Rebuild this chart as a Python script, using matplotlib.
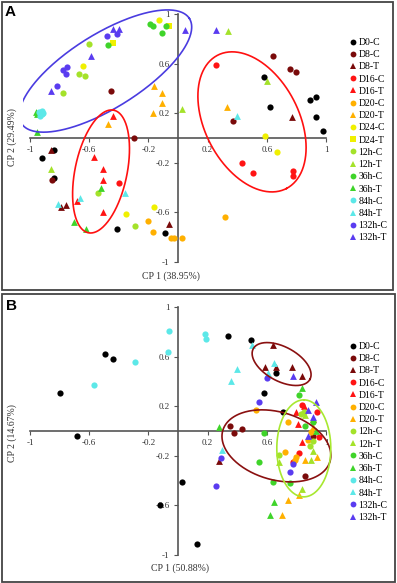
import numpy as np
import matplotlib
matplotlib.use('Agg')
import matplotlib.pyplot as plt
from matplotlib.lines import Line2D
from matplotlib.patches import Rectangle

plt.rcParams['font.family'] = ['Liberation Serif', 'DejaVu Serif']

W, H, DPI = 397, 583, 100

# ---------------- Panel A data (CP1, CP2) ----------------
A_D0C = ([0.58, 0.89, 0.93, 0.62, 0.93, 0.98, -0.84, -0.92, -0.84, -0.41, -0.09],
         [0.49, 0.31, 0.33, 0.25, 0.17, 0.06, -0.10, -0.16, -0.32, -0.73, -0.77])
A_D8C = ([-0.45, -0.30, 0.64, 0.76, 0.80, 0.37, -0.85],
         [0.38, 0.00, 0.66, 0.56, 0.53, 0.14, -0.34])
A_D8T = ([0.77, -0.86, -0.79, -0.76, -0.06],
         [0.17, -0.10, -0.56, -0.54, -0.69])
A_D16C = ([0.26, -0.40, 0.43, 0.51, 0.78, 0.78],
          [0.59, -0.36, -0.20, -0.28, -0.27, -0.31])
A_D16T = ([-0.44, -0.57, -0.51, -0.51, -0.68, -0.51],
          [0.18, -0.15, -0.25, -0.34, -0.51, -0.60])
A_D20C = ([-0.20, -0.17, -0.05, -0.03, 0.03, 0.32],
          [-0.67, -0.76, -0.81, -0.81, -0.81, -0.64])
A_D20T = ([-0.47, -0.16, -0.11, -0.11, -0.17, 0.33],
          [0.11, 0.42, 0.36, 0.28, 0.20, 0.25])
A_D24C = ([-0.13, -0.64, 0.59, 0.67, -0.35, -0.16],
          [0.95, 0.58, 0.02, -0.11, -0.61, -0.56])
A_D24T = ([-0.06, -0.44],
          [0.90, 0.77])
A_12hC = ([-0.60, -0.67, -0.63, -0.78, -0.54, -0.29],
          [0.76, 0.52, 0.50, 0.36, -0.44, -0.71])
A_12hT = ([0.03, 0.60, -0.86, 0.34],
          [0.23, 0.46, -0.25, 0.86])
A_36hC = ([-0.19, -0.17, -0.11, -0.08, -0.47],
          [0.92, 0.90, 0.85, 0.90, 0.75])
A_36hT = ([-0.96, -0.95, -0.95, -0.52, -0.70, -0.62],
          [0.21, 0.19, 0.05, -0.40, -0.68, -0.73])
A_84hC = ([-0.94, -0.92, -0.91, -0.93, -0.92],
          [0.21, 0.22, 0.20, 0.18, 0.19])
A_84hT = ([0.40, -0.36, -0.66, -0.81],
          [0.18, -0.44, -0.48, -0.53])
A_132hC = ([-0.48, -0.41, -0.78, -0.75, -0.76, -0.82],
           [0.82, 0.84, 0.55, 0.57, 0.52, 0.42])
A_132hT = ([-0.44, -0.40, -0.59, -0.86, 0.05, 0.26],
           [0.88, 0.88, 0.66, 0.38, 0.87, 0.87])

# ---------------- Panel B data (CP1, CP2) ----------------
B_D0C = ([-0.49, -0.44, -0.80, -0.68, 0.03, -0.12, 0.13, 0.34, 0.49, 0.66, 0.58, 0.71],
         [0.62, 0.58, 0.31, -0.04, -0.41, -0.60, -0.91, 0.77, 0.73, 0.47, 0.31, 0.15])
B_D8C = ([0.35, 0.43, 0.38, 0.86, 0.91],
         [0.04, 0.02, -0.02, -0.36, -0.04])
B_D8T = ([0.64, 0.59, 0.66, 0.77, 0.84, 0.28],
         [0.69, 0.52, 0.52, 0.52, 0.44, -0.24])
B_D16C = ([0.94, 0.84, 0.82, 0.78, 0.95],
          [0.15, 0.21, -0.18, -0.25, -0.05])
B_D16T = ([0.85, 0.80, 0.81, 0.84, 0.91],
          [0.20, 0.15, 0.06, -0.09, 0.10])
B_D20C = ([0.53, 0.74, 0.72, 0.80, 0.79, 0.90, 0.88],
          [0.17, 0.07, -0.17, -0.21, -0.23, -0.01, -0.07])
B_D20T = ([0.86, 0.94, 0.82, 0.74, 0.70, 0.91],
          [-0.23, -0.21, -0.52, -0.56, -0.68, 0.03])
B_12hC = ([0.83, 0.85, 0.89, 0.91, 0.68],
          [0.14, 0.15, -0.12, -0.08, -0.19])
B_12hT = ([0.90, 0.91, 0.68, 0.84, 0.86],
          [-0.23, -0.16, -0.25, -0.47, 0.13])
B_36hC = ([0.82, 0.58, 0.55, 0.64, 0.76, 0.86, 0.91],
          [0.29, -0.02, -0.25, -0.41, -0.42, 0.04, 0.07])
B_36hT = ([0.84, 0.28, 0.65, 0.62, 0.93],
          [0.35, 0.03, -0.57, -0.68, 0.00])
B_84hC = ([-0.06, -0.07, -0.29, -0.57, 0.18, 0.19],
          [0.81, 0.64, 0.56, 0.37, 0.78, 0.74])
B_84hT = ([0.50, 0.65, 0.61, 0.40, 0.36, 0.30],
          [0.69, 0.55, 0.47, 0.50, 0.40, -0.15])
B_132hC = ([0.60, 0.55, 0.29, 0.26, 0.78, 0.76],
           [0.43, 0.23, -0.22, -0.44, -0.27, -0.33])
B_132hT = ([0.78, 0.93, 0.88, 0.91, 0.88],
           [0.44, 0.23, 0.17, 0.11, -0.04])

LABELS_A = ['D0-C', 'D8-C', 'D8-T', 'D16-C', 'D16-T', 'D20-C', 'D20-T', 'D24-C', 'D24-T',
            '12h-C', '12h-T', '36h-C', '36h-T', '84h-C', '84h-T', '132h-C', '132h-T']
SERIES_A = [A_D0C, A_D8C, A_D8T, A_D16C, A_D16T, A_D20C, A_D20T, A_D24C, A_D24T,
            A_12hC, A_12hT, A_36hC, A_36hT, A_84hC, A_84hT, A_132hC, A_132hT]
LABELS_B = ['D0-C', 'D8-C', 'D8-T', 'D16-C', 'D16-T', 'D20-C', 'D20-T',
            '12h-C', '12h-T', '36h-C', '36h-T', '84h-C', '84h-T', '132h-C', '132h-T']
SERIES_B = [B_D0C, B_D8C, B_D8T, B_D16C, B_D16T, B_D20C, B_D20T,
            B_12hC, B_12hT, B_36hC, B_36hT, B_84hC, B_84hT, B_132hC, B_132hT]

TICKS = [-1, -0.6, -0.2, 0.2, 0.6, 1]
TICK_LABELS = ['-1', '-0.6', '-0.2', '0.2', '0.6', '1']

# ellipses: (center x, center y, semi-major px, semi-minor px, angle deg, color)
ELL_A = [(-0.49, 0.54, 99, 37, 32, '#4a3ce0'),
         (-0.52, -0.27, 62.6, 26, 78.3, '#ff1010'),
         (0.50, 0.13, 75, 47, -62.7, '#ff1010')]
ELL_B = [(0.70, 0.54, 32.2, 17.1, -28.4, '#8a1010'),
         (0.665, -0.12, 55.8, 33.9, -16, '#8a1010'),
         (0.85, -0.14, 48.5, 27, 90, '#a8e830')]

COLORS = {'D0': '#000000', 'D8': '#7a0a0a', 'D16': '#ff1414', 'D20': '#ffb000',
          'D24': '#f0f000', '12h': '#a4e22a', '36h': '#3fd42a', '84h': '#5ce8e8',
          '132h': '#5a3cf0'}


def style(label):
    grp, kind = label.split('-')
    marker = 'o' if kind == 'C' else '^'
    if label == 'D24-T':
        marker = 's'
    return COLORS[grp], marker


fig = plt.figure(figsize=(W / DPI, H / DPI), dpi=DPI)

XL = (-1.05, 1.05)
PX_X = 148.0   # px per unit
PX_Y = 124.0


def make_axes(y0_px):
    left = 178 - 1.05 * PX_X
    top = y0_px - 1.05 * PX_Y
    ax = fig.add_axes([left / W, 1 - (top + 2.1 * PX_Y) / H, 2.1 * PX_X / W, 2.1 * PX_Y / H])
    ax.set_xlim(*XL)
    ax.set_ylim(*XL)
    ax.patch.set_alpha(0)
    for s in ['top', 'right']:
        ax.spines[s].set_visible(False)
    for s in ['left', 'bottom']:
        ax.spines[s].set_position(('data', 0))
        ax.spines[s].set_bounds(-1, 1)
        ax.spines[s].set_color('#555555')
        ax.spines[s].set_linewidth(1.2)
    ax.set_xticks(TICKS, TICK_LABELS)
    ax.set_yticks(TICKS, TICK_LABELS)
    ax.tick_params(direction='out', length=3, width=0.8, labelsize=6.5, pad=3,
                   colors='#555555', labelcolor='#333333')
    return ax


def draw_panel(ax, labels, series, ells):
    for lab, (xs, ys) in zip(labels, series):
        c, m = style(lab)
        ax.scatter(xs, ys, s=20 if m != '^' else 24, c=c, marker=m, linewidths=0, zorder=3)
    t = np.linspace(0, 2 * np.pi, 300)
    for cx, cy, a, b, ang, col in ells:
        th = np.deg2rad(ang)
        dx = a * np.cos(t) * np.cos(th) - b * np.sin(t) * np.sin(th)
        dy = a * np.cos(t) * np.sin(th) + b * np.sin(t) * np.cos(th)
        ax.plot(cx + dx / PX_X, cy + dy / PX_Y, color=col, lw=1.2, zorder=4)


def draw_legend(labels, top_px):
    handles = []
    for lab in labels:
        c, m = style(lab)
        handles.append(Line2D([], [], ls='none', marker=m, color=c, markersize=4.2,
                              markeredgewidth=0))
    fig.legend(handles, labels, loc='upper left', bbox_to_anchor=(349 / W, 1 - top_px / H),
               bbox_transform=fig.transFigure, frameon=False, fontsize=7,
               handlelength=0.8, handletextpad=0.15, labelspacing=0.33, borderpad=0,
               borderaxespad=0)


axA = make_axes(138)
draw_panel(axA, LABELS_A, SERIES_A, ELL_A)
draw_legend(LABELS_A, 38)

axB = make_axes(431)
draw_panel(axB, LABELS_B, SERIES_B, ELL_B)
draw_legend(LABELS_B, 342)

# axis titles
fig.text(171 / W, 1 - 276 / H, 'CP 1 (38.95%)', ha='center', va='center', fontsize=7, color='#333333')
fig.text(12 / W, 1 - 137 / H, 'CP 2 (29.49%)', ha='center', va='center', rotation=90, fontsize=7, color='#333333')
fig.text(180 / W, 1 - 568 / H, 'CP 1 (50.88%)', ha='center', va='center', fontsize=7, color='#333333')
fig.text(12 / W, 1 - 433 / H, 'CP 2 (14.67%)', ha='center', va='center', rotation=90, fontsize=7, color='#333333')

# panel letters
fig.text(5 / W, 1 - 12.5 / H, 'A', ha='left', va='center', fontsize=11, fontweight='bold',
         family='Liberation Sans')
fig.text(6 / W, 1 - 306.5 / H, 'B', ha='left', va='center', fontsize=11, fontweight='bold',
         family='Liberation Sans')

# panel frames
fig.add_artist(Rectangle((1.5 / W, 1 - 290 / H), 391.5 / W, 288.5 / H, transform=fig.transFigure,
                         fill=False, ec='#444444', lw=1.3))
fig.add_artist(Rectangle((1.5 / W, 1 - 582 / H), 393 / W, 288 / H, transform=fig.transFigure,
                         fill=False, ec='#444444', lw=1.3))

fig.savefig('out.png', dpi=DPI)
